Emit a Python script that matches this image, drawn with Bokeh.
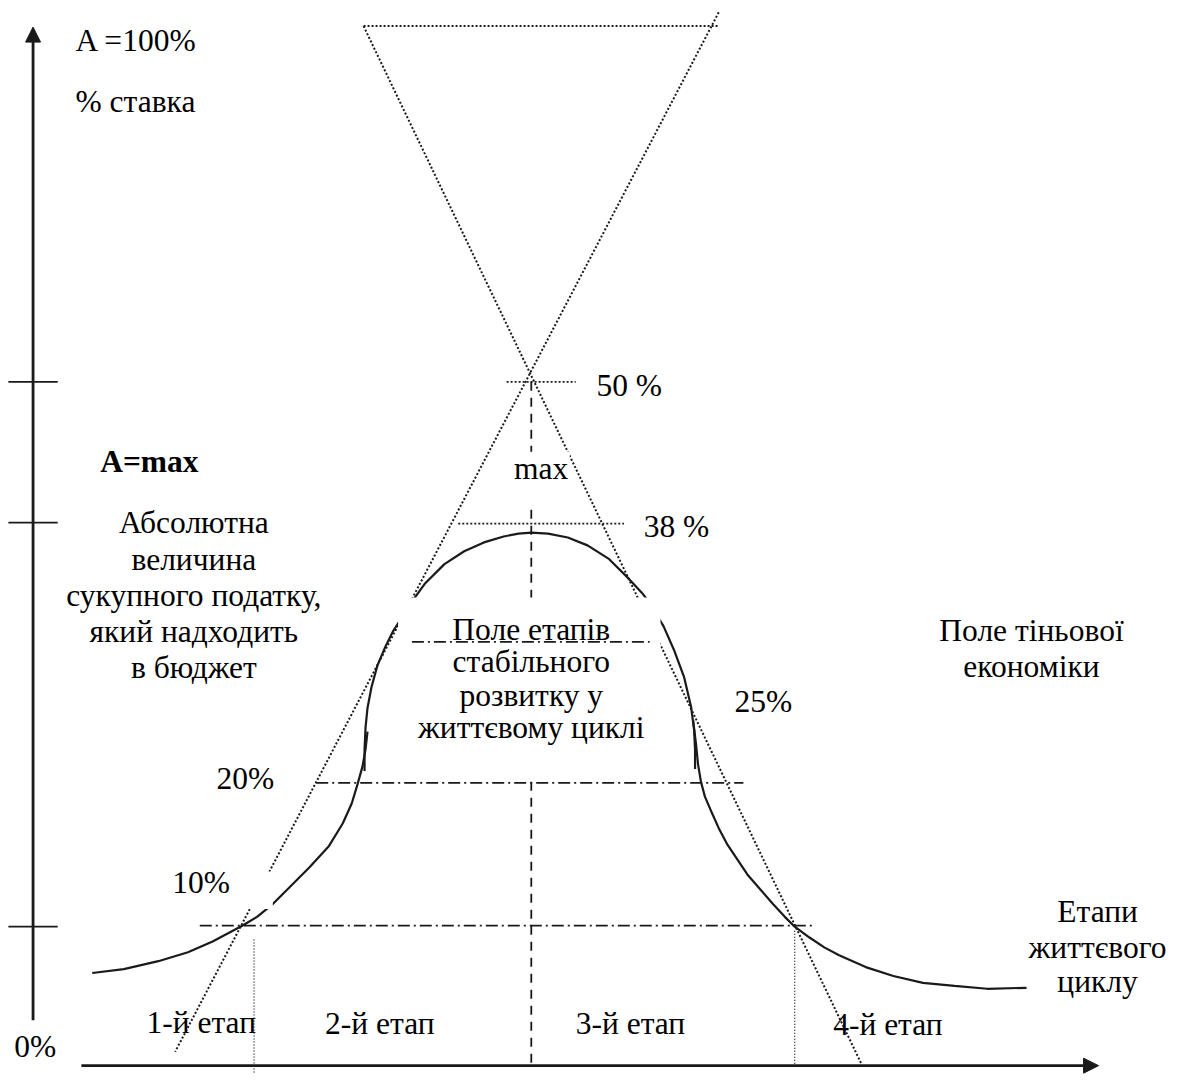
from bokeh.plotting import figure
from bokeh.models import Range1d, Arrow, NormalHead
from bokeh.core.properties import value
from bokeh.embed import file_html
from bokeh.resources import INLINE

# ---------------- data (diagram units, y grows downward) ----------------
# life-cycle tax curve, drawn as three strokes (as in the original drawing)
curve_a_x = [93, 125, 160, 190, 215, 245, 260, 276, 293, 313, 333, 347, 356, 362, 367, 370, 372]
curve_a_y = [987, 983, 975, 966, 955, 939, 930, 917, 900, 880, 858, 835, 815, 795, 777, 760, 742]
curve_b_x = [369, 369, 370, 372, 376, 382, 390, 398, 405, 417, 430, 450, 470, 490, 510, 525, 538,
             555, 575, 595, 617, 637, 650, 657, 672, 683, 693, 700, 703, 704, 704]
curve_b_y = [782, 760, 738, 718, 697, 675, 656, 640, 629, 610, 592, 572, 559, 550, 544, 541, 540,
             541, 545, 553, 567, 587, 601, 610, 635, 660, 687, 717, 740, 760, 780]
curve_c_x = [702, 705, 707, 710, 714, 720, 728, 737, 747, 757, 770, 783, 795, 805, 820, 835, 850,
             877, 905, 935, 967, 1000, 1040]
curve_c_y = [730, 755, 775, 793, 808, 822, 840, 857, 872, 887, 902, 917, 930, 940, 951, 961, 969,
             981, 990, 997, 1000, 1003, 1002]

# the two crossing rate lines (hourglass) and the top closing line
cross_x0 = [368, 728]
cross_y0 = [26, 12]
cross_x1 = [873, 177]
cross_y1 = [1080, 1067]
top_x = [368, 728]
top_y = [26, 26]

# short level markers (50 %, 38 %)
mark_y = [387, 531]
mark_x0 = [513, 464]
mark_x1 = [583, 632]

# dash-dot rate levels (inner box, 20 %, 10 %)
level_y = [651, 794, 939]
level_x0 = [417, 320, 202]
level_x1 = [658, 753, 825]

# stage boundaries
stage_bound_x = [257, 805]
stage_bound_y0 = [953, 944]
stage_bound_y1 = [1090, 1081]
center_x = 538
center_y0, center_y1 = 387, 1082

# vertical axis tick marks
axis_tick_y = [387, 530, 940]

# text frames (white) that cover lines
frame_l = [403, 170, 520]
frame_r = [669, 276, 577]
frame_t = [606, 884, 458]
frame_b = [790, 922, 512]

# single labels (left aligned; y = middle of text)
lab_text = ["A =100%", "% ставка", "50 %", "38 %", "25%", "20%", "10%", "0%",
            "1-й етап", "2-й етап", "3-й етап", "4-й етап"]
lab_x = [76, 76, 604, 652, 744, 219, 174, 14, 148, 329, 583, 844]
lab_y = [41, 102, 391, 534, 711, 790, 895, 1062, 1037, 1038, 1038, 1039]

# centred text blocks (y = middle of text)
blk_text = ["max",
            "Абсолютна", "величина", "сукупного податку,", "який надходить", "в бюджет",
            "Поле етапів", "стабільного", "розвитку у", "життєвому циклі",
            "Поле тіньової", "економіки",
            "Етапи", "життєвого", "циклу"]
blk_x = [548, 196, 196, 196, 196, 196, 538, 538, 538, 538, 1045, 1045, 1112, 1112, 1112]
blk_y = [475, 530, 567, 604, 640, 677, 638, 671, 705, 738, 639, 676, 925, 961, 996]

bold_text = ["A=max"]
bold_x = [101]
bold_y = [468]

# ---------------- figure ----------------
p = figure(width=1176, height=1074, x_range=Range1d(0, 1192), y_range=Range1d(1090, 0),
           output_backend="svg", toolbar_location=None, min_border=0,
           x_axis_type=None, y_axis_type=None)
p.grid.visible = False
p.outline_line_color = None
p.background_fill_color = "white"
p.border_fill_color = "white"

ink = "#1a1a1a"
FONT = value("Liberation Serif")
FS = "31.5px"

# curve
p.multi_line([curve_a_x, curve_b_x, curve_c_x], [curve_a_y, curve_b_y, curve_c_y],
             line_color=ink, line_width=2.2)

# dotted hourglass lines
p.segment(x0=cross_x0, y0=cross_y0, x1=cross_x1, y1=cross_y1,
          line_color=ink, line_width=2.0, line_dash="2 2")
p.line(top_x, top_y, line_color=ink, line_width=2.0, line_dash="2 2")
p.segment(x0=mark_x0, y0=mark_y, x1=mark_x1, y1=mark_y,
          line_color=ink, line_width=1.7, line_dash="2 2")

# stage boundaries (thin dotted)
p.segment(x0=stage_bound_x, y0=stage_bound_y0, x1=stage_bound_x, y1=stage_bound_y1,
          line_color=ink, line_width=1.3, line_dash="1 2")

# centre dashed line
p.segment(x0=[center_x], y0=[center_y0], x1=[center_x], y1=[center_y1],
          line_color=ink, line_width=1.8, line_dash="9 7")

# dash-dot levels 20 % and 10 %
p.segment(x0=level_x0[1:], y0=level_y[1:], x1=level_x1[1:], y1=level_y[1:],
          line_color=ink, line_width=1.8, line_dash="12 4 2 4")

# white text frames
p.quad(left=frame_l, right=frame_r, top=frame_t, bottom=frame_b,
       fill_color="white", line_color=None)

# dash-dot level inside the stable box
p.segment(x0=level_x0[:1], y0=level_y[:1], x1=level_x1[:1], y1=level_y[:1],
          line_color=ink, line_width=1.8, line_dash="12 4 2 4")

# axes with arrows
p.add_layout(Arrow(end=NormalHead(size=15, fill_color=ink, line_color=ink),
                   x_start=33, y_start=1035, x_end=33, y_end=27,
                   line_color=ink, line_width=2.8))
p.add_layout(Arrow(end=NormalHead(size=15, fill_color=ink, line_color=ink),
                   x_start=82, y_start=1081, x_end=1113, y_end=1081,
                   line_color=ink, line_width=2.8))
p.segment(x0=[8] * len(axis_tick_y), y0=axis_tick_y, x1=[58] * len(axis_tick_y), y1=axis_tick_y,
          line_color=ink, line_width=1.8)

# texts
p.text(x=lab_x, y=lab_y, text=lab_text, text_font=FONT, text_font_size=FS,
       text_align="left", text_baseline="middle", text_color="black")
p.text(x=blk_x, y=blk_y, text=blk_text, text_font=FONT, text_font_size=FS,
       text_align="center", text_baseline="middle", text_color="black")
p.text(x=bold_x, y=bold_y, text=bold_text, text_font=FONT, text_font_size=FS,
       text_font_style="bold", text_align="left", text_baseline="middle", text_color="black")

open("out.html", "w").write(file_html(p, INLINE))
